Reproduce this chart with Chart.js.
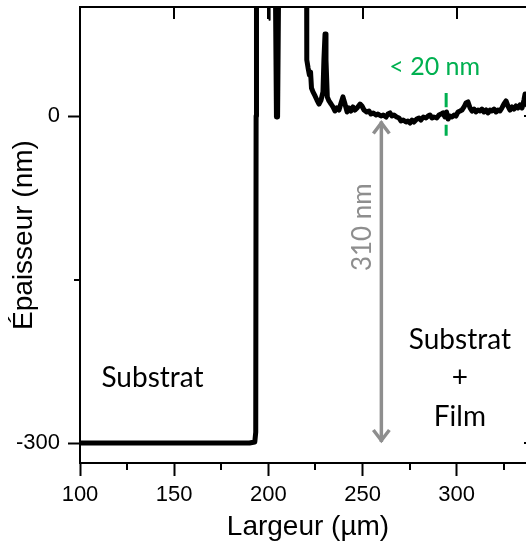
<!DOCTYPE html>
<html>
<head>
<meta charset="utf-8">
<script src="https://cdn.jsdelivr.net/npm/chart.js@4/dist/chart.umd.min.js"></script>
<style>
html,body{margin:0;padding:0;overflow:hidden;background:#fff;width:526px;height:542px}
#wrap{width:546px;height:542px}
</style>
</head>
<body>
<div id="wrap"><canvas id="c" width="546" height="542"></canvas></div>
<script>
// ---- data ----
const profileX = [100,150,180,190,192.8,193.3,193.5,193.7,
  200.2,200.5,200.8,
  203.6,204.3,204.9,205.6,
  220.3,220.4,221.1,221.8,222.4,222.9,223.7,224.8,225.8,226.9,228.0,229.0,229.5,230.1,230.6,231.3,232.2,233.3,234.3,235.4,236.4,237.5,238.6,239.6,240.7,241.8,242.8,243.9,244.9,246.0,247.1,248.7,249.7,250.8,252.2,253.4,254.5,255.7,257.2,258.2,259.8,261.0,262.5,263.5,264.6,265.6,266.7,268.1,269.4,270.4,271.6,273.1,274.1,275.2,276.3,277.3,278.8,280.0,281.0,282.3,283.7,284.8,285.8,286.9,287.9,289.4,290.6,291.7,292.7,293.8,294.6,295.4,296.4,297.5,298.6,299.6,300.7,301.8,302.8,303.9,304.9,306.0,307.1,308.1,309.2,310.2,311.3,312.4,313.4,314.5,315.6,316.6,317.7,318.7,319.8,320.9,321.9,323.0,324.0,325.1,326.2,327.2,328.3,329.4,330.4,331.5,332.5,333.6,334.7,335.7,336.3,336.8,338.9,342.1];
const profileY = [-300,-300,-300,-300,-299,-290,0,150,
  150,88,150,
  150,-1,-1,150,
  150,51.5,44.1,37.7,40.4,25.7,22.1,18.4,14.7,11.0,14.7,22.1,51.5,75.3,51.5,17.5,13.8,11.0,8.3,4.6,7.4,5.5,11.9,17.5,11.0,3.7,7.4,4.6,8.3,5.5,7.4,11.0,9.2,5.5,3.7,4.6,1.8,2.8,0.9,1.8,0,0.9,-0.9,1.8,2.8,0,0.9,-0.9,-1.8,-4.6,-3.7,-5.5,-4.6,-6.4,-3.7,-5.5,-2.8,-1.8,-3.7,-0.9,-1.8,0,0.9,-1.8,-0.9,-1.8,0.9,1.8,2.8,-0.9,3.7,-2.8,0,-0.9,0.9,0,3.7,4.6,5.5,8.3,11.9,12.9,7.4,4.6,6.4,3.7,5.5,4.6,6.4,3.7,5.5,2.8,5.5,4.6,6.4,3.7,5.5,4.6,7.4,11.0,13.8,9.2,5.5,8.3,6.4,9.2,7.4,10.1,7.4,14.7,20.2,11.0,7.4,9.2];

const xMajorTicks = [100,150,200,250,300];
const xMinorTicks = [125,175,225,275,325];
const yMajorTicks = [-300,0];
const yMinorTicks = [-150];
const xTopTicks = [150,200,250,300];
const yRightTicks = [-300,0];

// thickness arrow (x, top, bottom) and roughness marker segments
const arrowX = [260,260];
const arrowY = [-5,-299];
const markX = [294.4,294.4,294.4,294.4,294.4];
const markY = [21,8,null,-8,-18];

// annotation texts and their anchors in data units
const noteTexts = ['Substrat','Substrat','+','Film','310 nm','< 20 nm'];
const noteX = [138.5,301.7,301.7,301.7,250.2,288.3];
const noteY = [-240.7,-205.8,-240.7,-275.7,-102.0,44.6];

const xTitle = 'Largeur (µm)';
const yTitle = 'Épaisseur (nm)';

// ---- styles ----
const GRAY = '#8e8e8e', GREEN = '#00b050';
const noteStyle = [
  {color:'#000', size:28, rot:0},
  {color:'#000', size:28, rot:0},
  {color:'#000', size:28, rot:0},
  {color:'#000', size:28, rot:0},
  {color:GRAY, size:26, rot:-Math.PI/2},
  {color:GREEN, size:25, rot:0}
];

const toPts = (xs, ys) => xs.map((v,i) => ({x:v, y:ys[i]}));
const noPad = s => { s.paddingTop = 0; s.paddingBottom = 0; s.paddingLeft = 0; s.paddingRight = 0; };

const framePlugin = {
  id:'frame',
  beforeDatasetsDraw(chart){
    const {ctx, chartArea:a, scales:{x,y}} = chart;
    ctx.save();
    ctx.strokeStyle='#000'; ctx.lineWidth=2; ctx.lineCap='butt';
    ctx.beginPath();
    ctx.moveTo(a.left-1, a.top); ctx.lineTo(a.right, a.top);
    ctx.moveTo(a.right, a.top); ctx.lineTo(a.right, a.bottom);
    xMinorTicks.forEach(v=>{const p=Math.round(x.getPixelForValue(v)); ctx.moveTo(p,a.bottom); ctx.lineTo(p,a.bottom+7);});
    yMinorTicks.forEach(v=>{const p=Math.round(y.getPixelForValue(v)); ctx.moveTo(a.left,p); ctx.lineTo(a.left-6,p);});
    xTopTicks.forEach(v=>{const p=Math.round(x.getPixelForValue(v)); ctx.moveTo(p,a.top); ctx.lineTo(p,a.top+12);});
    yRightTicks.forEach(v=>{const p=Math.round(y.getPixelForValue(v)); ctx.moveTo(a.right,p); ctx.lineTo(a.right-12,p);});
    ctx.stroke();
    ctx.restore();
  },
  afterDatasetsDraw(chart){
    const {ctx, scales:{x,y}} = chart;
    ctx.save();
    const ax = x.getPixelForValue(arrowX[0]);
    const aTop = y.getPixelForValue(arrowY[0]);
    const aBot = y.getPixelForValue(arrowY[1]);
    ctx.strokeStyle=GRAY; ctx.lineWidth=3.5; ctx.lineCap='butt'; ctx.lineJoin='miter';
    ctx.beginPath();
    ctx.moveTo(ax-8, aTop+12); ctx.lineTo(ax, aTop+1.5); ctx.lineTo(ax+8, aTop+12);
    ctx.moveTo(ax-8, aBot-12); ctx.lineTo(ax, aBot-1.5); ctx.lineTo(ax+8, aBot-12);
    ctx.stroke();
    noteTexts.forEach((t,i)=>{
      const s = noteStyle[i];
      ctx.save();
      ctx.translate(x.getPixelForValue(noteX[i]), y.getPixelForValue(noteY[i]));
      ctx.rotate(s.rot);
      ctx.fillStyle=s.color;
      ctx.font = s.size+'px Lato, "Open Sans", sans-serif';
      ctx.textAlign='center'; ctx.textBaseline='middle';
      ctx.fillText(t,0,0);
      ctx.restore();
    });
    ctx.restore();
  }
};

new Chart(document.getElementById('c'), {
  type:'line',
  data:{datasets:[
    {data:toPts(profileX, profileY), borderColor:'#000', borderWidth:5, pointRadius:0, tension:0,
     borderJoinStyle:'round', borderCapStyle:'round',
     segment:{borderWidth: c => (c.p0DataIndex === 8 || c.p0DataIndex === 9) ? 1.5 : 5}},
    {data:toPts(markX, markY), borderColor:GREEN, borderWidth:3, pointRadius:0, spanGaps:false},
    {data:toPts(arrowX, arrowY), borderColor:GRAY, borderWidth:3.5, pointRadius:0}
  ]},
  options:{
    responsive:false, animation:false, devicePixelRatio:1,
    layout:{padding:{top:7,right:10,bottom:0,left:0}},
    plugins:{legend:{display:false}, tooltip:{enabled:false}},
    scales:{
      x:{type:'linear', position:'bottom', min:100, max:342.1,
        afterBuildTicks(s){ s.ticks = xMajorTicks.map(v=>({value:v})); },
        afterFit(s){ s.height = 79; noPad(s); },
        grid:{drawOnChartArea:false, drawTicks:true, tickLength:13, tickWidth:2, tickColor:'#000'},
        border:{display:true, width:2, color:'#000'},
        ticks:{color:'#000', padding:6, maxRotation:0, autoSkip:false,
          font:{family:'"Liberation Sans", Arial, sans-serif', size:22}},
        title:{display:true, text:xTitle, color:'#000', padding:{top:0,bottom:1},
          font:{family:'"Liberation Sans", Arial, sans-serif', size:28, lineHeight:1}}
      },
      y:{type:'linear', position:'left', min:-318.3, max:100,
        afterBuildTicks(s){ s.ticks = yMajorTicks.map(v=>({value:v})); },
        afterFit(s){ s.width = 80; noPad(s); },
        grid:{drawOnChartArea:false, drawTicks:true, tickLength:12, tickWidth:2, tickColor:'#000'},
        border:{display:true, width:2, color:'#000'},
        ticks:{color:'#000', padding:8, autoSkip:false,
          font:{family:'"Liberation Sans", Arial, sans-serif', size:22}},
        title:{display:true, text:yTitle, color:'#000', padding:{top:10,bottom:0},
          font:{family:'"Liberation Sans", Arial, sans-serif', size:28, lineHeight:1}}
      }
    }
  },
  plugins:[framePlugin]
});
</script>
</body>
</html>
